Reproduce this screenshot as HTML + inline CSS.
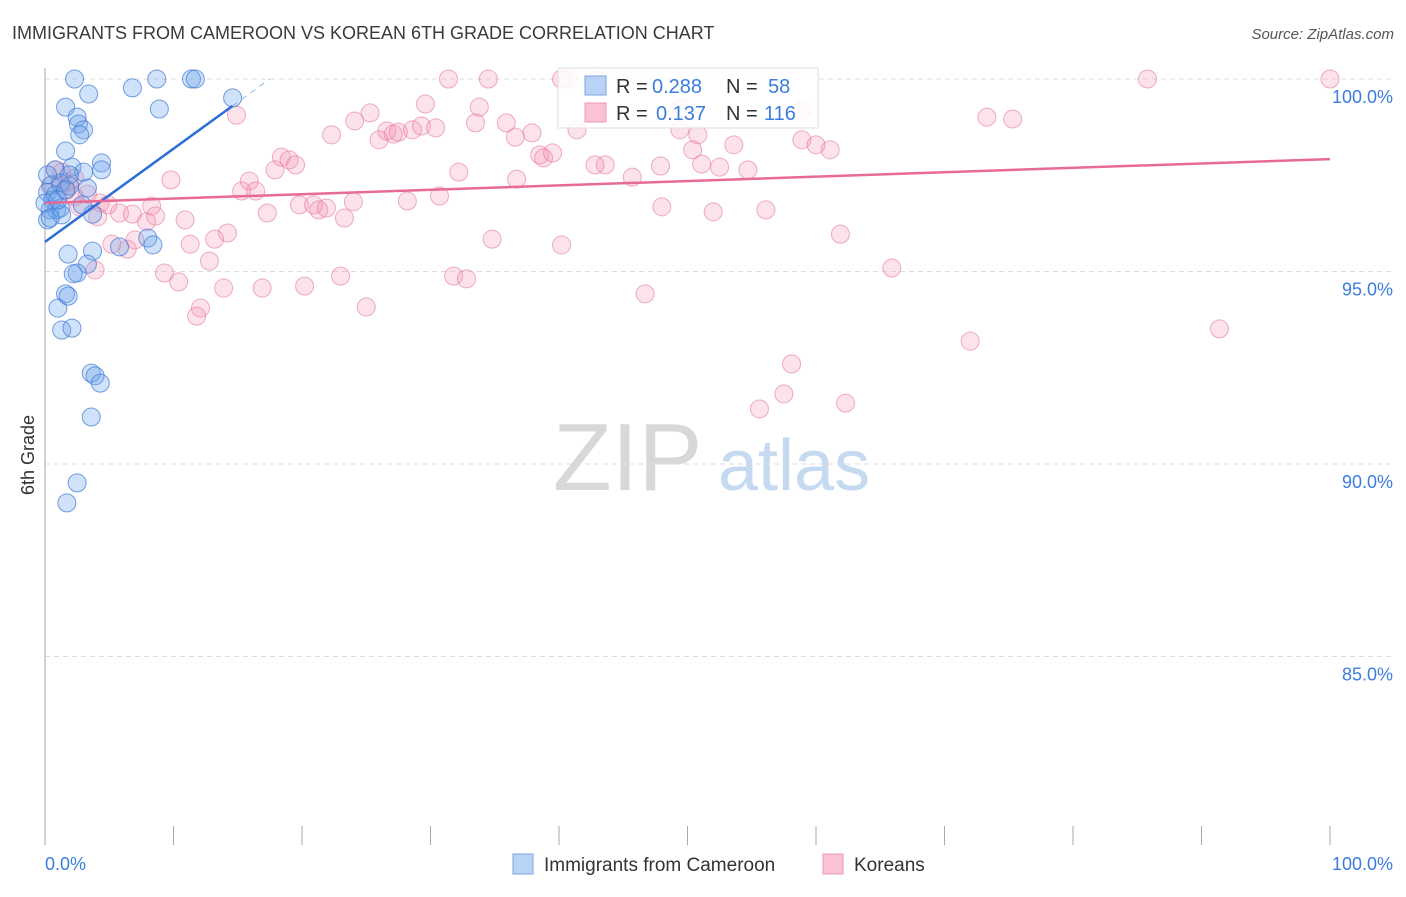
<!DOCTYPE html>
<html><head><meta charset="utf-8"><style>
body{margin:0;background:#fff;font-family:"Liberation Sans",sans-serif;}
svg text{font-family:"Liberation Sans",sans-serif;}
</style></head><body>
<svg id="chart" width="1406" height="892" xmlns="http://www.w3.org/2000/svg">
<text x="12" y="39" font-size="18" fill="#3a3a3a">IMMIGRANTS FROM CAMEROON VS KOREAN 6TH GRADE CORRELATION CHART</text>
<text x="1394" y="39" font-size="15" fill="#555" text-anchor="end" font-style="italic">Source: ZipAtlas.com</text>
<g>
<text x="553" y="490" font-size="96" fill="#d8d8d8" font-family="Liberation Serif">ZIP</text>
<text x="718" y="490" font-size="72" fill="#c5d9f0">atlas</text>
</g>
<g id="grid"></g>
<g id="axes"></g>
<g id="marks"></g>
<g id="legend-top">
<rect x="558" y="68" width="260" height="60" fill="#fff" fill-opacity="0.85" stroke="#ddd"/>
<rect x="585" y="76" width="21" height="19" fill="#b8d3f5" stroke="#7aa7e0"/>
<text x="616" y="93" font-size="20" fill="#333">R = </text><text x="652" y="93" font-size="20" fill="#3b7ddd">0.288</text>
<text x="726" y="93" font-size="20" fill="#333">N = </text><text x="768" y="93" font-size="20" fill="#3b7ddd">58</text>
<rect x="585" y="103" width="21" height="19" fill="#f9c3d3" stroke="#ee97b2"/>
<text x="616" y="120" font-size="20" fill="#333">R = </text><text x="656" y="120" font-size="20" fill="#3b7ddd">0.137</text>
<text x="726" y="120" font-size="20" fill="#333">N = </text><text x="764" y="120" font-size="20" fill="#3b7ddd">116</text>
</g>
<g>
<rect x="513" y="854" width="20" height="20" fill="#b8d3f5" stroke="#7aa7e0"/>
<text x="544" y="871" font-size="19" fill="#333">Immigrants from Cameroon</text>
<rect x="823" y="854" width="20" height="20" fill="#f9c3d3" stroke="#ee97b2"/>
<text x="854" y="871" font-size="19" fill="#333">Koreans</text>
</g>
<text transform="translate(34,455) rotate(-90)" font-size="18" fill="#333" text-anchor="middle">6th Grade</text>
</svg>
<script>
const yTicks=[100,95,90,85];
const yTickLabels=["100.0%","95.0%","90.0%","85.0%"];
const xTickCount=10;
const blueX=[2.3,8.7,11.4,11.7,6.8,3.4,8.9,14.6,1.6,2.5,2.6,3.0,2.7,1.6,2.1,4.4,4.4,3.0,0.8,1.9,3.3,0.5,1.2,0.2,0.6,0.4,0.9,1.2,0.2,1.3,3.7,8.0,8.4,5.8,3.7,1.8,3.3,2.5,2.2,1.6,1.0,1.8,1.3,2.1,3.6,3.9,4.3,3.6,2.5,1.7,0.2,0,0.8,1.9,0.4,1.0,1.6,2.9];
const blueY=[100,100,100,100,99.77,99.61,99.22,99.51,99.27,99.01,98.83,98.68,98.55,98.13,97.71,97.82,97.64,97.58,97.64,97.51,97.17,97.25,97.30,97.06,96.86,96.60,96.60,96.65,96.34,96.47,96.49,95.87,95.69,95.64,95.53,95.45,95.19,94.96,94.94,94.42,94.05,94.36,93.48,93.53,92.36,92.29,92.10,91.22,89.51,88.99,97.51,96.78,96.99,97.22,96.39,96.86,97.12,96.73];
const pinkX=[31.4,34.5,40.2,40.7,85.8,100,14.9,25.3,24.1,29.6,33.8,33.5,35.9,37.9,22.3,26.6,27.1,26.0,27.5,28.6,29.3,30.4,36.6,41.4,49.4,50.8,49.5,58.9,73.3,75.3,53.6,50.4,58.9,60.0,61.1,38.5,38.8,39.5,43.6,42.8,47.9,51.1,52.5,54.7,32.2,36.7,45.7,18.4,19.0,19.5,17.9,9.8,15.9,15.3,16.4,0.8,1.3,1.9,1.2,2.3,0.4,3.3,4.3,4.9,5.8,6.8,8.3,8.6,7.9,10.9,2.7,4.1,17.3,19.8,20.9,21.3,21.9,23.3,24.0,28.2,30.7,48.0,52.0,56.1,14.2,13.2,11.3,5.2,6.4,7.0,12.8,9.3,10.4,3.9,13.9,16.9,20.2,23.0,31.8,32.8,34.8,40.2,61.9,65.9,46.7,12.1,11.8,25.0,72.0,91.4,58.1,57.5,55.6,62.3,43.0,2.3,1.7];
const pinkY=[100,100,100,100,100,100,99.06,99.12,98.91,99.35,99.27,98.86,98.86,98.60,98.55,98.65,98.57,98.42,98.62,98.68,98.78,98.73,98.49,98.68,98.68,98.55,99.25,99.19,99.01,98.96,98.29,98.16,98.42,98.29,98.16,98.03,97.95,98.08,97.77,97.77,97.74,97.79,97.71,97.64,97.58,97.40,97.45,97.97,97.90,97.77,97.64,97.38,97.35,97.09,97.09,97.64,97.58,97.32,97.25,97.43,97.22,97.01,96.78,96.73,96.52,96.49,96.70,96.44,96.29,96.34,96.68,96.42,96.52,96.73,96.73,96.60,96.65,96.39,96.81,96.83,96.96,96.68,96.55,96.60,96.00,95.84,95.71,95.71,95.58,95.82,95.27,94.96,94.73,95.04,94.57,94.57,94.62,94.88,94.88,94.81,95.84,95.69,95.97,95.09,94.42,94.05,93.84,94.08,93.19,93.51,92.60,91.82,91.43,91.58,99.97,96.94,97.12];
const blueTrend=[95.77,0.242];
const pinkTrend=[96.78,0.0114];
const NS="http://www.w3.org/2000/svg";
const sx=v=>45+v*12.85;
const sy=v=>79+(100-v)*38.5;
function mk(tag,attrs,parent){const e=document.createElementNS(NS,tag);for(const k in attrs)e.setAttribute(k,attrs[k]);parent.appendChild(e);return e;}
const grid=document.getElementById('grid'),axes=document.getElementById('axes'),marks=document.getElementById('marks');
yTicks.forEach((t,i)=>{
 const l=mk('line',{x1:45,x2:1394,y1:sy(t),y2:sy(t),stroke:'#ddd','stroke-dasharray':'5,4'},grid);
 
 
 const tx=mk('text',{x:1393,y:sy(t)+24,'font-size':18,fill:'#3b7ddd','text-anchor':'end'},axes);
 tx.textContent=yTickLabels[i];
 
 
});
const ya=mk('line',{x1:45,x2:45,y1:68,y2:845,stroke:'#aaa'},axes);


for(let i=0;i<=xTickCount;i++){
 const x=sx(i*100/xTickCount);
 const t=mk('line',{x1:x,x2:x,y1:826,y2:845,stroke:'#aaa'},axes);
 
 
}
const x0=mk('text',{x:45,y:870,'font-size':18,fill:'#3b7ddd'},axes);x0.textContent='0.0%';


const x1=mk('text',{x:1393,y:870,'font-size':18,fill:'#3b7ddd','text-anchor':'end'},axes);x1.textContent='100.0%';


pinkX.forEach((v,i)=>{
 const c=mk('circle',{cx:sx(v),cy:sy(pinkY[i]),r:9,fill:'rgba(244,150,180,0.28)',stroke:'rgba(230,120,155,0.6)','stroke-width':1},marks);
 
 
});
blueX.forEach((v,i)=>{
 const c=mk('circle',{cx:sx(v),cy:sy(blueY[i]),r:9,fill:'rgba(110,165,235,0.32)',stroke:'rgba(60,120,210,0.7)','stroke-width':1},marks);
 
 
});
const bEnd=Math.max(...blueX);
const bl=mk('line',{x1:sx(0),y1:sy(blueTrend[0]),x2:sx(bEnd),y2:sy(blueTrend[0]+blueTrend[1]*bEnd),stroke:'#2a6fd6','stroke-width':2.5},marks);


const bExt=(100-blueTrend[0])/blueTrend[1];
const bd=mk('line',{x1:sx(bEnd),y1:sy(blueTrend[0]+blueTrend[1]*bEnd),x2:sx(bExt),y2:sy(100),stroke:'#8fb2e6','stroke-width':1,'stroke-dasharray':'6,5'},marks);


const pl=mk('line',{x1:sx(0),y1:sy(pinkTrend[0]),x2:sx(100),y2:sy(pinkTrend[0]+pinkTrend[1]*100),stroke:'#e86b94','stroke-width':2.5},marks);


</script>
</body></html>
